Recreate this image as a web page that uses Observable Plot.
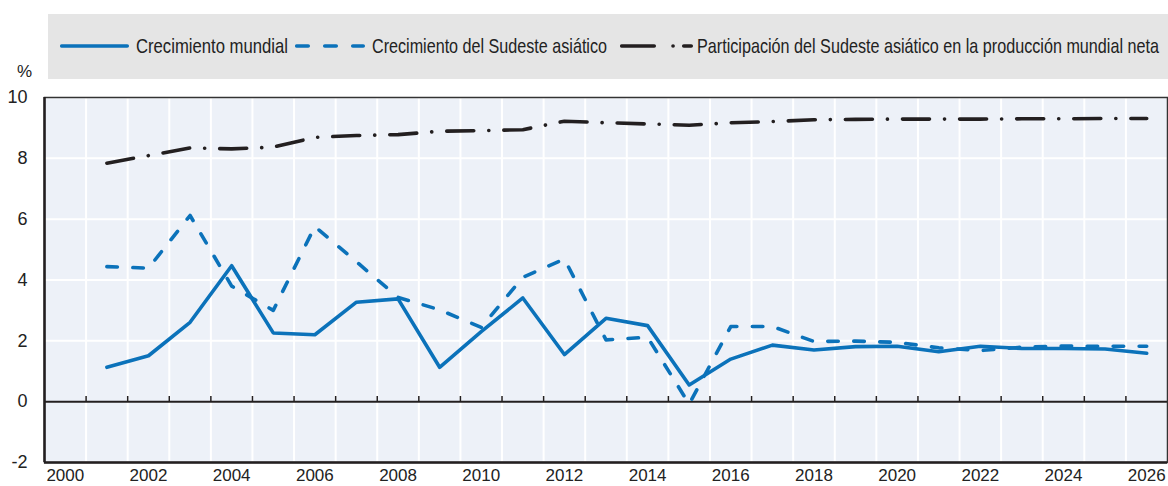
<!DOCTYPE html>
<html>
<head>
<meta charset="utf-8">
<script src="https://cdn.jsdelivr.net/npm/d3@7"></script>
<script src="https://cdn.jsdelivr.net/npm/@observablehq/plot@0.6"></script>
<style>
  html, body { margin: 0; padding: 0; background: #fff; }
  #wrap { position: relative; width: 1168px; height: 486px; overflow: hidden; }
  #legend { position: absolute; left: 48px; top: 14px; width: 1120px; height: 65px; background: #e5e5e5; }
  .sw { position: absolute; top: 26px; }
  .lt { position: absolute; top: 19px; font-family: "Liberation Sans", Arial, sans-serif; font-size: 21px; color: #222; white-space: nowrap; line-height: 26px; transform-origin: 0 50%; }
  #pct { position: absolute; left: 17px; top: 62px; font-family: "Liberation Sans", Arial, sans-serif; font-size: 17px; color: #222; }
  #chart { position: absolute; left: 0; top: 0; }
</style>
</head>
<body>
<div id="wrap">
  <div id="chart"></div>
  <div id="legend"></div>
  <div id="pct">%</div>
</div>
<script>
// ---- Data ----
const years = [2001,2002,2003,2004,2005,2006,2007,2008,2009,2010,2011,2012,2013,2014,2015,2016,2017,2018,2019,2020,2021,2022,2023,2024,2025,2026];
const worldGrowth = [1.13,1.51,2.61,4.47,2.26,2.20,3.27,3.38,1.13,2.30,3.41,1.55,2.74,2.50,0.55,1.40,1.86,1.70,1.81,1.82,1.64,1.82,1.75,1.75,1.73,1.59];
const seaGrowth   = [4.44,4.39,6.12,3.80,3.00,5.76,4.60,3.43,3.02,2.44,4.09,4.69,2.03,2.12,-0.08,2.47,2.47,1.98,1.99,1.95,1.77,1.68,1.79,1.83,1.82,1.82];
const seaShare    = [7.84,8.09,8.34,8.31,8.37,8.69,8.75,8.78,8.89,8.91,8.94,9.22,9.17,9.13,9.09,9.17,9.21,9.27,9.28,9.29,9.29,9.29,9.30,9.30,9.31,9.31];
const seriesNames = ["Crecimiento mundial", "Crecimiento del Sudeste asiático", "Participación del Sudeste asiático en la producción mundial neta"];
const xTickYears = [2000,2002,2004,2006,2008,2010,2012,2014,2016,2018,2020,2022,2024,2026];
const yTicks = [-2,0,2,4,6,8,10];
const allYears = [2000].concat(years);

// ---- Styles ----
const BLUE = "#0b72ba";
const BLACK = "#231f20";
const LW = 3.6;
const seriesStyle = [
  {stroke: BLUE, dash: null, legendDash: null},
  {stroke: BLUE, dash: "10.5,15.5", legendDash: "11.5,16.5"},
  {stroke: BLACK, dash: "27,15,0.1,15", legendDash: "32.5,18.75,0.1,10.65,7.5,100"}
];

const rows = (vals) => years.map((y, i) => ({year: y, value: vals[i]}));
const boundaries = allYears.map(y => y + 0.5).filter(b => b < years[years.length - 1]);

const plot = Plot.plot({
  width: 1168,
  height: 486,
  marginTop: 97,
  marginBottom: 24,
  marginLeft: 44,
  marginRight: 1,
  style: {fontFamily: "'Liberation Sans', Arial, sans-serif", fontSize: "17px", color: "#222", background: "transparent"},
  x: {domain: [allYears[0] - 0.5, years[years.length - 1] + 0.5]},
  y: {domain: [yTicks[0], yTicks[yTicks.length - 1]]},
  marks: [
    Plot.frame({fill: "#edf1f8", stroke: null}),
    Plot.ruleY(yTicks.filter(t => t !== 0), {stroke: "#fff", strokeWidth: 2}),
    Plot.ruleX(boundaries, {stroke: "#fff", strokeWidth: 2}),
    Plot.ruleY([0], {stroke: BLACK, strokeWidth: 2}),
    Plot.ruleX(boundaries, {y1: 0, y2: 0.17, stroke: BLACK, strokeWidth: 1.5}),
    Plot.lineY(rows(seaShare), {x: "year", y: "value", stroke: seriesStyle[2].stroke, strokeWidth: LW, strokeDasharray: seriesStyle[2].dash, strokeLinecap: "round", strokeLinejoin: "round"}),
    Plot.lineY(rows(seaGrowth), {x: "year", y: "value", stroke: seriesStyle[1].stroke, strokeWidth: LW, strokeDasharray: seriesStyle[1].dash, strokeLinecap: "round", strokeLinejoin: "round"}),
    Plot.lineY(rows(worldGrowth), {x: "year", y: "value", stroke: seriesStyle[0].stroke, strokeWidth: LW, strokeLinecap: "round", strokeLinejoin: "round"}),
    Plot.frame({stroke: "#333", strokeWidth: 1.5}),
    Plot.ruleX([allYears[0] - 0.5], {stroke: BLACK, strokeWidth: 2.5}),
    Plot.ruleY([yTicks[0]], {stroke: BLACK, strokeWidth: 2.5}),
    Plot.axisY({ticks: yTicks, tickSize: 0, tickPadding: 17, tickFormat: d => String(d), label: null, fontSize: 18}),
    Plot.axisX({ticks: xTickYears, tickSize: 0, tickPadding: 6, tickFormat: d => String(d), label: null})
  ]
});
document.getElementById("chart").appendChild(plot);

// ---- Legend ----
const legend = document.getElementById("legend");
const legendPos = [
  {sw: 12, w: 69, txt: 88, tw: 152},
  {sw: 247, w: 70, txt: 324, tw: 235},
  {sw: 572, w: 73, txt: 649, tw: 462}
];
seriesNames.forEach((name, i) => {
  const st = seriesStyle[i];
  const p = legendPos[i];
  const svg = d3.create("svg").attr("class", "sw").attr("width", p.w + 2).attr("height", 12)
    .style("left", p.sw + "px");
  svg.append("line").attr("x1", 1.75).attr("x2", p.w - 1.75).attr("y1", 6).attr("y2", 6)
    .attr("stroke", st.stroke).attr("stroke-width", 3.6).attr("stroke-linecap", "round")
    .attr("stroke-dasharray", st.legendDash);
  legend.appendChild(svg.node());
  const t = document.createElement("div");
  t.className = "lt";
  t.style.left = p.txt + "px";
  t.textContent = name;
  legend.appendChild(t);
  const natural = t.getBoundingClientRect().width;
  t.style.transform = `scaleX(${(p.tw / natural).toFixed(4)})`;
});
</script>
</body>
</html>
